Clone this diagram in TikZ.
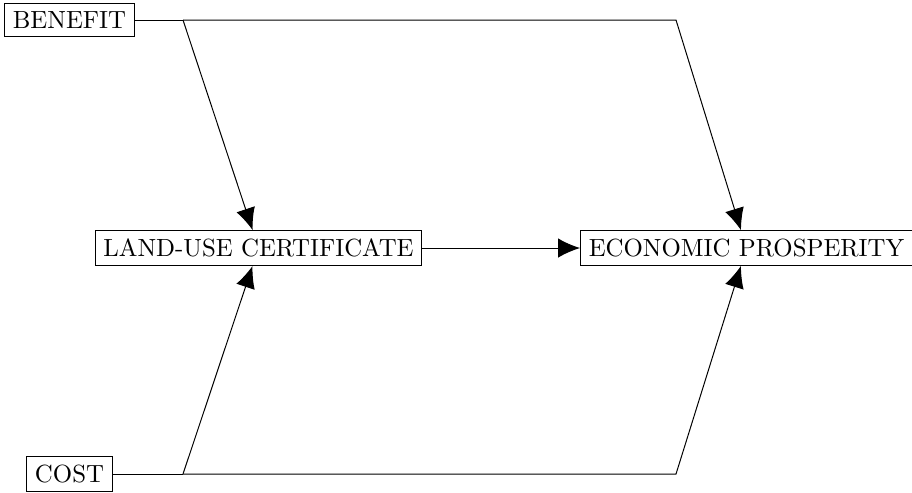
\documentclass[tikz,border=0pt]{standalone}
\usepackage{amsmath,amssymb}
\usepackage{tikz}
\usetikzlibrary{arrows.meta}

\begin{document}
\begin{tikzpicture}[x=0.01415cm,
            y=-0.01415cm,
            >={Latex[length=8.8pt,width=7.8pt]},
            box/.style={draw,rectangle}]

        \useasboundingbox (0,0) rectangle (912,492);

        \node[box] (benefit)  at (69.5,20)   {BENEFIT};
        \node[box] (cost)     at (69.5,474)  {COST};
        \node[box] (landuse)  at (258.5,248) {LAND-USE CERTIFICATE};
        \node[box] (prosper)  at (746.5,248) {ECONOMIC PROSPERITY};

        \coordinate (bsplit) at (183,20);
        \coordinate (bturn)  at (676,20);
        \coordinate (csplit) at (183,474);
        \coordinate (cturn)  at (676,474);

        \draw (benefit) -- (bsplit);
        \draw[->] (bsplit) -- (landuse);
        \draw[->] (bsplit) -- (bturn) -- (prosper);
        \draw (cost) -- (csplit);
        \draw[->] (csplit) -- (landuse);
        \draw[->] (csplit) -- (cturn) -- (prosper);
        \draw[->] (landuse) -- (prosper);

    \end{tikzpicture}
\end{document}
